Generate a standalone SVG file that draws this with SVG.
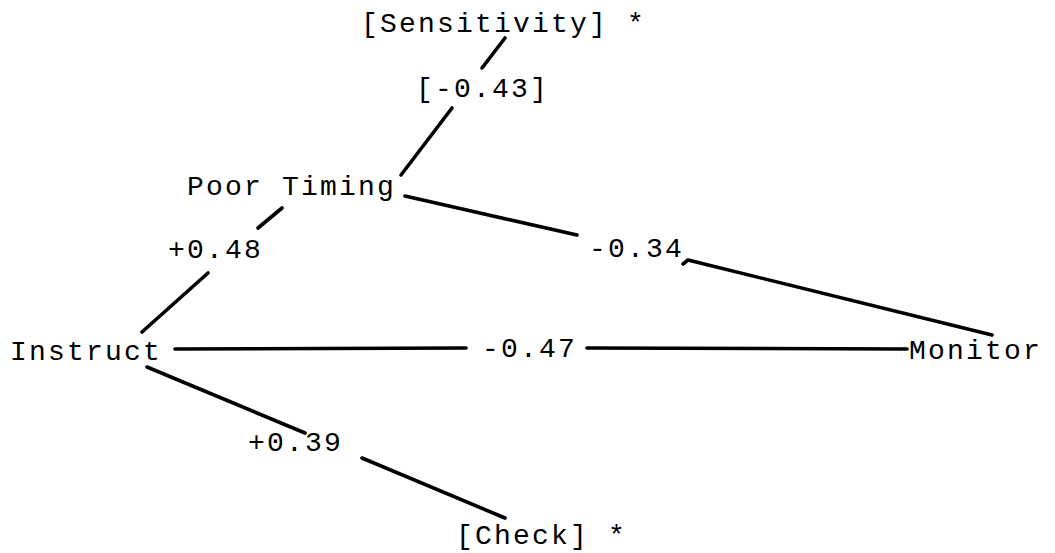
<svg xmlns="http://www.w3.org/2000/svg" width="1055" height="553" viewBox="0 0 1055 553">
<style>
text{font-family:"Liberation Mono","DejaVu Sans Mono",monospace;font-size:28px;letter-spacing:2.2px;fill:#000}
.c line,.c path{stroke:#000;stroke-width:3.6;stroke-linecap:round;stroke-linejoin:round;fill:none}
</style>
<rect width="1055" height="553" fill="#fff"/>
<g class="c" id="connectors">
<line x1="505" y1="38" x2="482" y2="68"/>
<line x1="452" y1="108" x2="401" y2="175"/>
<line x1="282" y1="208" x2="258" y2="228"/>
<line x1="208" y1="273" x2="142" y2="332"/>
<line x1="175" y1="349" x2="466" y2="348"/>
<line x1="587" y1="348" x2="907" y2="349"/>
<line x1="405" y1="196" x2="577" y2="235"/>
<path d="M683 264 L688 260 L992 335"/>
<line x1="147" y1="367" x2="305" y2="433"/>
<line x1="362" y1="458" x2="505" y2="518"/>
</g>
<g id="sensitivity"><text x="361" y="32">[Sensitivity] *</text></g>
<g id="lbl-043"><text x="416" y="97">[-0.43]</text></g>
<g id="poor-timing"><text x="187" y="195">Poor Timing</text></g>
<g id="lbl-048"><text x="168" y="258">+0.48</text></g>
<g id="instruct"><text x="10" y="360">Instruct</text></g>
<g id="lbl-047"><text x="482" y="357">-0.47</text></g>
<g id="monitor"><text x="909" y="359">Monitor</text></g>
<g id="lbl-034"><text x="589" y="257">-0.34</text></g>
<g id="lbl-039"><text x="248" y="451">+0.39</text></g>
<g id="check"><text x="456" y="544">[Check] *</text></g>
</svg>
